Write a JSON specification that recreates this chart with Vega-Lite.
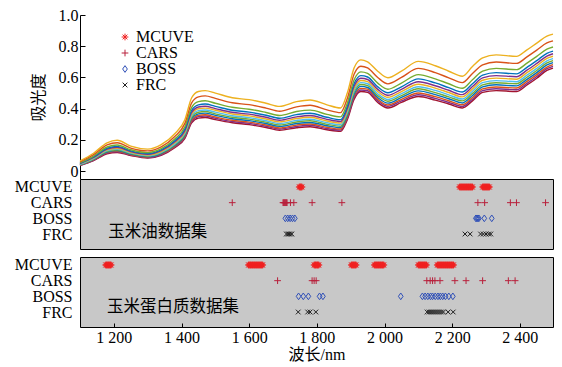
{
"$schema":"https://vega.github.io/schema/vega-lite/v6.json",
"padding":{"left":13,"top":7,"right":5,"bottom":0},
"config":{"view":{"stroke":null},"font":"Liberation Serif","axis":{"labelFont":"Liberation Serif","titleFont":"Liberation Serif, Noto Sans CJK SC","labelColor":"#000","titleColor":"#000","domainColor":"#000","tickColor":"#000","grid":false,"titleFontWeight":"normal"}},
"datasets":{
"spec":[
{"s":1,"w":1100,"a":0.036},{"s":2,"w":1100,"a":0.038},{"s":3,"w":1100,"a":0.039},{"s":4,"w":1100,"a":0.041},{"s":5,"w":1100,"a":0.043},{"s":6,"w":1100,"a":0.044},{"s":7,"w":1100,"a":0.047},{"s":8,"w":1100,"a":0.049},{"s":9,"w":1100,"a":0.051},{"s":10,"w":1100,"a":0.055},{"s":11,"w":1100,"a":0.060},{"s":12,"w":1100,"a":0.066},
{"s":1,"w":1140,"a":0.068},{"s":2,"w":1140,"a":0.070},{"s":3,"w":1140,"a":0.073},{"s":4,"w":1140,"a":0.076},{"s":5,"w":1140,"a":0.078},{"s":6,"w":1140,"a":0.081},{"s":7,"w":1140,"a":0.085},{"s":8,"w":1140,"a":0.088},{"s":9,"w":1140,"a":0.092},{"s":10,"w":1140,"a":0.097},{"s":11,"w":1140,"a":0.106},{"s":12,"w":1140,"a":0.115},
{"s":1,"w":1180,"a":0.112},{"s":2,"w":1180,"a":0.116},{"s":3,"w":1180,"a":0.119},{"s":4,"w":1180,"a":0.123},{"s":5,"w":1180,"a":0.127},{"s":6,"w":1180,"a":0.132},{"s":7,"w":1180,"a":0.137},{"s":8,"w":1180,"a":0.141},{"s":9,"w":1180,"a":0.147},{"s":10,"w":1180,"a":0.155},{"s":11,"w":1180,"a":0.168},{"s":12,"w":1180,"a":0.182},
{"s":1,"w":1210,"a":0.120},{"s":2,"w":1210,"a":0.124},{"s":3,"w":1210,"a":0.128},{"s":4,"w":1210,"a":0.132},{"s":5,"w":1210,"a":0.137},{"s":6,"w":1210,"a":0.142},{"s":7,"w":1210,"a":0.147},{"s":8,"w":1210,"a":0.153},{"s":9,"w":1210,"a":0.159},{"s":10,"w":1210,"a":0.168},{"s":11,"w":1210,"a":0.182},{"s":12,"w":1210,"a":0.198},
{"s":1,"w":1250,"a":0.100},{"s":2,"w":1250,"a":0.103},{"s":3,"w":1250,"a":0.106},{"s":4,"w":1250,"a":0.110},{"s":5,"w":1250,"a":0.113},{"s":6,"w":1250,"a":0.117},{"s":7,"w":1250,"a":0.121},{"s":8,"w":1250,"a":0.125},{"s":9,"w":1250,"a":0.130},{"s":10,"w":1250,"a":0.137},{"s":11,"w":1250,"a":0.148},{"s":12,"w":1250,"a":0.160},
{"s":1,"w":1300,"a":0.084},{"s":2,"w":1300,"a":0.087},{"s":3,"w":1300,"a":0.090},{"s":4,"w":1300,"a":0.093},{"s":5,"w":1300,"a":0.097},{"s":6,"w":1300,"a":0.100},{"s":7,"w":1300,"a":0.104},{"s":8,"w":1300,"a":0.108},{"s":9,"w":1300,"a":0.113},{"s":10,"w":1300,"a":0.119},{"s":11,"w":1300,"a":0.130},{"s":12,"w":1300,"a":0.141},
{"s":1,"w":1340,"a":0.102},{"s":2,"w":1340,"a":0.105},{"s":3,"w":1340,"a":0.109},{"s":4,"w":1340,"a":0.113},{"s":5,"w":1340,"a":0.117},{"s":6,"w":1340,"a":0.121},{"s":7,"w":1340,"a":0.126},{"s":8,"w":1340,"a":0.131},{"s":9,"w":1340,"a":0.136},{"s":10,"w":1340,"a":0.144},{"s":11,"w":1340,"a":0.156},{"s":12,"w":1340,"a":0.170},
{"s":1,"w":1380,"a":0.150},{"s":2,"w":1380,"a":0.155},{"s":3,"w":1380,"a":0.159},{"s":4,"w":1380,"a":0.164},{"s":5,"w":1380,"a":0.170},{"s":6,"w":1380,"a":0.175},{"s":7,"w":1380,"a":0.182},{"s":8,"w":1380,"a":0.188},{"s":9,"w":1380,"a":0.195},{"s":10,"w":1380,"a":0.206},{"s":11,"w":1380,"a":0.222},{"s":12,"w":1380,"a":0.240},
{"s":1,"w":1410,"a":0.210},{"s":2,"w":1410,"a":0.216},{"s":3,"w":1410,"a":0.222},{"s":4,"w":1410,"a":0.229},{"s":5,"w":1410,"a":0.236},{"s":6,"w":1410,"a":0.244},{"s":7,"w":1410,"a":0.252},{"s":8,"w":1410,"a":0.260},{"s":9,"w":1410,"a":0.270},{"s":10,"w":1410,"a":0.284},{"s":11,"w":1410,"a":0.306},{"s":12,"w":1410,"a":0.330},
{"s":1,"w":1430,"a":0.310},{"s":2,"w":1430,"a":0.318},{"s":3,"w":1430,"a":0.326},{"s":4,"w":1430,"a":0.336},{"s":5,"w":1430,"a":0.345},{"s":6,"w":1430,"a":0.355},{"s":7,"w":1430,"a":0.366},{"s":8,"w":1430,"a":0.377},{"s":9,"w":1430,"a":0.390},{"s":10,"w":1430,"a":0.409},{"s":11,"w":1430,"a":0.438},{"s":12,"w":1430,"a":0.470},
{"s":1,"w":1450,"a":0.340},{"s":2,"w":1450,"a":0.349},{"s":3,"w":1450,"a":0.357},{"s":4,"w":1450,"a":0.367},{"s":5,"w":1450,"a":0.377},{"s":6,"w":1450,"a":0.388},{"s":7,"w":1450,"a":0.400},{"s":8,"w":1450,"a":0.411},{"s":9,"w":1450,"a":0.425},{"s":10,"w":1450,"a":0.445},{"s":11,"w":1450,"a":0.476},{"s":12,"w":1450,"a":0.510},
{"s":1,"w":1470,"a":0.344},{"s":2,"w":1470,"a":0.353},{"s":3,"w":1470,"a":0.361},{"s":4,"w":1470,"a":0.372},{"s":5,"w":1470,"a":0.382},{"s":6,"w":1470,"a":0.392},{"s":7,"w":1470,"a":0.404},{"s":8,"w":1470,"a":0.416},{"s":9,"w":1470,"a":0.430},{"s":10,"w":1470,"a":0.451},{"s":11,"w":1470,"a":0.482},{"s":12,"w":1470,"a":0.516},
{"s":1,"w":1500,"a":0.330},{"s":2,"w":1500,"a":0.339},{"s":3,"w":1500,"a":0.347},{"s":4,"w":1500,"a":0.357},{"s":5,"w":1500,"a":0.367},{"s":6,"w":1500,"a":0.378},{"s":7,"w":1500,"a":0.390},{"s":8,"w":1500,"a":0.401},{"s":9,"w":1500,"a":0.415},{"s":10,"w":1500,"a":0.435},{"s":11,"w":1500,"a":0.466},{"s":12,"w":1500,"a":0.500},
{"s":1,"w":1550,"a":0.310},{"s":2,"w":1550,"a":0.318},{"s":3,"w":1550,"a":0.326},{"s":4,"w":1550,"a":0.336},{"s":5,"w":1550,"a":0.345},{"s":6,"w":1550,"a":0.355},{"s":7,"w":1550,"a":0.366},{"s":8,"w":1550,"a":0.377},{"s":9,"w":1550,"a":0.390},{"s":10,"w":1550,"a":0.409},{"s":11,"w":1550,"a":0.438},{"s":12,"w":1550,"a":0.470},
{"s":1,"w":1600,"a":0.298},{"s":2,"w":1600,"a":0.306},{"s":3,"w":1600,"a":0.314},{"s":4,"w":1600,"a":0.324},{"s":5,"w":1600,"a":0.333},{"s":6,"w":1600,"a":0.343},{"s":7,"w":1600,"a":0.354},{"s":8,"w":1600,"a":0.365},{"s":9,"w":1600,"a":0.378},{"s":10,"w":1600,"a":0.397},{"s":11,"w":1600,"a":0.426},{"s":12,"w":1600,"a":0.458},
{"s":1,"w":1650,"a":0.280},{"s":2,"w":1650,"a":0.288},{"s":3,"w":1650,"a":0.296},{"s":4,"w":1650,"a":0.305},{"s":5,"w":1650,"a":0.314},{"s":6,"w":1650,"a":0.323},{"s":7,"w":1650,"a":0.334},{"s":8,"w":1650,"a":0.345},{"s":9,"w":1650,"a":0.358},{"s":10,"w":1650,"a":0.376},{"s":11,"w":1650,"a":0.404},{"s":12,"w":1650,"a":0.435},
{"s":1,"w":1690,"a":0.262},{"s":2,"w":1690,"a":0.270},{"s":3,"w":1690,"a":0.277},{"s":4,"w":1690,"a":0.287},{"s":5,"w":1690,"a":0.296},{"s":6,"w":1690,"a":0.305},{"s":7,"w":1690,"a":0.316},{"s":8,"w":1690,"a":0.326},{"s":9,"w":1690,"a":0.339},{"s":10,"w":1690,"a":0.357},{"s":11,"w":1690,"a":0.384},{"s":12,"w":1690,"a":0.415},
{"s":1,"w":1740,"a":0.278},{"s":2,"w":1740,"a":0.286},{"s":3,"w":1740,"a":0.295},{"s":4,"w":1740,"a":0.305},{"s":5,"w":1740,"a":0.315},{"s":6,"w":1740,"a":0.325},{"s":7,"w":1740,"a":0.337},{"s":8,"w":1740,"a":0.348},{"s":9,"w":1740,"a":0.362},{"s":10,"w":1740,"a":0.382},{"s":11,"w":1740,"a":0.412},{"s":12,"w":1740,"a":0.445},
{"s":1,"w":1780,"a":0.285},{"s":2,"w":1780,"a":0.294},{"s":3,"w":1780,"a":0.302},{"s":4,"w":1780,"a":0.312},{"s":5,"w":1780,"a":0.323},{"s":6,"w":1780,"a":0.333},{"s":7,"w":1780,"a":0.345},{"s":8,"w":1780,"a":0.357},{"s":9,"w":1780,"a":0.371},{"s":10,"w":1780,"a":0.391},{"s":11,"w":1780,"a":0.422},{"s":12,"w":1780,"a":0.456},
{"s":1,"w":1830,"a":0.265},{"s":2,"w":1830,"a":0.273},{"s":3,"w":1830,"a":0.281},{"s":4,"w":1830,"a":0.291},{"s":5,"w":1830,"a":0.300},{"s":6,"w":1830,"a":0.310},{"s":7,"w":1830,"a":0.321},{"s":8,"w":1830,"a":0.332},{"s":9,"w":1830,"a":0.345},{"s":10,"w":1830,"a":0.364},{"s":11,"w":1830,"a":0.393},{"s":12,"w":1830,"a":0.425},
{"s":1,"w":1870,"a":0.255},{"s":2,"w":1870,"a":0.263},{"s":3,"w":1870,"a":0.270},{"s":4,"w":1870,"a":0.279},{"s":5,"w":1870,"a":0.288},{"s":6,"w":1870,"a":0.297},{"s":7,"w":1870,"a":0.308},{"s":8,"w":1870,"a":0.318},{"s":9,"w":1870,"a":0.330},{"s":10,"w":1870,"a":0.348},{"s":11,"w":1870,"a":0.375},{"s":12,"w":1870,"a":0.405},
{"s":1,"w":1890,"a":0.330},{"s":2,"w":1890,"a":0.339},{"s":3,"w":1890,"a":0.347},{"s":4,"w":1890,"a":0.357},{"s":5,"w":1890,"a":0.367},{"s":6,"w":1890,"a":0.378},{"s":7,"w":1890,"a":0.390},{"s":8,"w":1890,"a":0.401},{"s":9,"w":1890,"a":0.415},{"s":10,"w":1890,"a":0.435},{"s":11,"w":1890,"a":0.466},{"s":12,"w":1890,"a":0.500},
{"s":1,"w":1910,"a":0.460},{"s":2,"w":1910,"a":0.470},{"s":3,"w":1910,"a":0.480},{"s":4,"w":1910,"a":0.492},{"s":5,"w":1910,"a":0.504},{"s":6,"w":1910,"a":0.516},{"s":7,"w":1910,"a":0.530},{"s":8,"w":1910,"a":0.544},{"s":9,"w":1910,"a":0.560},{"s":10,"w":1910,"a":0.584},{"s":11,"w":1910,"a":0.620},{"s":12,"w":1910,"a":0.660},
{"s":1,"w":1930,"a":0.510},{"s":2,"w":1930,"a":0.520},{"s":3,"w":1930,"a":0.530},{"s":4,"w":1930,"a":0.543},{"s":5,"w":1930,"a":0.555},{"s":6,"w":1930,"a":0.567},{"s":7,"w":1930,"a":0.581},{"s":8,"w":1930,"a":0.595},{"s":9,"w":1930,"a":0.612},{"s":10,"w":1930,"a":0.636},{"s":11,"w":1930,"a":0.672},{"s":12,"w":1930,"a":0.713},
{"s":1,"w":1950,"a":0.505},{"s":2,"w":1950,"a":0.515},{"s":3,"w":1950,"a":0.525},{"s":4,"w":1950,"a":0.536},{"s":5,"w":1950,"a":0.548},{"s":6,"w":1950,"a":0.560},{"s":7,"w":1950,"a":0.573},{"s":8,"w":1950,"a":0.587},{"s":9,"w":1950,"a":0.603},{"s":10,"w":1950,"a":0.626},{"s":11,"w":1950,"a":0.661},{"s":12,"w":1950,"a":0.700},
{"s":1,"w":1980,"a":0.440},{"s":2,"w":1980,"a":0.450},{"s":3,"w":1980,"a":0.460},{"s":4,"w":1980,"a":0.472},{"s":5,"w":1980,"a":0.484},{"s":6,"w":1980,"a":0.496},{"s":7,"w":1980,"a":0.510},{"s":8,"w":1980,"a":0.524},{"s":9,"w":1980,"a":0.540},{"s":10,"w":1980,"a":0.564},{"s":11,"w":1980,"a":0.600},{"s":12,"w":1980,"a":0.640},
{"s":1,"w":2010,"a":0.405},{"s":2,"w":2010,"a":0.415},{"s":3,"w":2010,"a":0.424},{"s":4,"w":2010,"a":0.436},{"s":5,"w":2010,"a":0.448},{"s":6,"w":2010,"a":0.459},{"s":7,"w":2010,"a":0.473},{"s":8,"w":2010,"a":0.486},{"s":9,"w":2010,"a":0.502},{"s":10,"w":2010,"a":0.525},{"s":11,"w":2010,"a":0.559},{"s":12,"w":2010,"a":0.598},
{"s":1,"w":2050,"a":0.440},{"s":2,"w":2050,"a":0.450},{"s":3,"w":2050,"a":0.460},{"s":4,"w":2050,"a":0.472},{"s":5,"w":2050,"a":0.484},{"s":6,"w":2050,"a":0.496},{"s":7,"w":2050,"a":0.510},{"s":8,"w":2050,"a":0.524},{"s":9,"w":2050,"a":0.540},{"s":10,"w":2050,"a":0.564},{"s":11,"w":2050,"a":0.600},{"s":12,"w":2050,"a":0.640},
{"s":1,"w":2100,"a":0.478},{"s":2,"w":2100,"a":0.489},{"s":3,"w":2100,"a":0.501},{"s":4,"w":2100,"a":0.514},{"s":5,"w":2100,"a":0.528},{"s":6,"w":2100,"a":0.541},{"s":7,"w":2100,"a":0.557},{"s":8,"w":2100,"a":0.573},{"s":9,"w":2100,"a":0.591},{"s":10,"w":2100,"a":0.618},{"s":11,"w":2100,"a":0.658},{"s":12,"w":2100,"a":0.703},
{"s":1,"w":2150,"a":0.455},{"s":2,"w":2150,"a":0.466},{"s":3,"w":2150,"a":0.477},{"s":4,"w":2150,"a":0.490},{"s":5,"w":2150,"a":0.503},{"s":6,"w":2150,"a":0.517},{"s":7,"w":2150,"a":0.532},{"s":8,"w":2150,"a":0.547},{"s":9,"w":2150,"a":0.565},{"s":10,"w":2150,"a":0.591},{"s":11,"w":2150,"a":0.631},{"s":12,"w":2150,"a":0.675},
{"s":1,"w":2190,"a":0.430},{"s":2,"w":2190,"a":0.441},{"s":3,"w":2190,"a":0.451},{"s":4,"w":2190,"a":0.464},{"s":5,"w":2190,"a":0.476},{"s":6,"w":2190,"a":0.489},{"s":7,"w":2190,"a":0.504},{"s":8,"w":2190,"a":0.518},{"s":9,"w":2190,"a":0.535},{"s":10,"w":2190,"a":0.560},{"s":11,"w":2190,"a":0.598},{"s":12,"w":2190,"a":0.640},
{"s":1,"w":2230,"a":0.405},{"s":2,"w":2230,"a":0.415},{"s":3,"w":2230,"a":0.425},{"s":4,"w":2230,"a":0.437},{"s":5,"w":2230,"a":0.450},{"s":6,"w":2230,"a":0.462},{"s":7,"w":2230,"a":0.476},{"s":8,"w":2230,"a":0.490},{"s":9,"w":2230,"a":0.507},{"s":10,"w":2230,"a":0.531},{"s":11,"w":2230,"a":0.567},{"s":12,"w":2230,"a":0.608},
{"s":1,"w":2260,"a":0.450},{"s":2,"w":2260,"a":0.461},{"s":3,"w":2260,"a":0.472},{"s":4,"w":2260,"a":0.485},{"s":5,"w":2260,"a":0.498},{"s":6,"w":2260,"a":0.512},{"s":7,"w":2260,"a":0.527},{"s":8,"w":2260,"a":0.542},{"s":9,"w":2260,"a":0.560},{"s":10,"w":2260,"a":0.586},{"s":11,"w":2260,"a":0.626},{"s":12,"w":2260,"a":0.670},
{"s":1,"w":2290,"a":0.505},{"s":2,"w":2290,"a":0.516},{"s":3,"w":2290,"a":0.527},{"s":4,"w":2290,"a":0.540},{"s":5,"w":2290,"a":0.553},{"s":6,"w":2290,"a":0.567},{"s":7,"w":2290,"a":0.582},{"s":8,"w":2290,"a":0.597},{"s":9,"w":2290,"a":0.615},{"s":10,"w":2290,"a":0.641},{"s":11,"w":2290,"a":0.681},{"s":12,"w":2290,"a":0.725},
{"s":1,"w":2330,"a":0.516},{"s":2,"w":2330,"a":0.528},{"s":3,"w":2330,"a":0.539},{"s":4,"w":2330,"a":0.553},{"s":5,"w":2330,"a":0.566},{"s":6,"w":2330,"a":0.580},{"s":7,"w":2330,"a":0.596},{"s":8,"w":2330,"a":0.612},{"s":9,"w":2330,"a":0.631},{"s":10,"w":2330,"a":0.658},{"s":11,"w":2330,"a":0.699},{"s":12,"w":2330,"a":0.745},
{"s":1,"w":2390,"a":0.510},{"s":2,"w":2390,"a":0.521},{"s":3,"w":2390,"a":0.533},{"s":4,"w":2390,"a":0.546},{"s":5,"w":2390,"a":0.560},{"s":6,"w":2390,"a":0.573},{"s":7,"w":2390,"a":0.589},{"s":8,"w":2390,"a":0.605},{"s":9,"w":2390,"a":0.623},{"s":10,"w":2390,"a":0.650},{"s":11,"w":2390,"a":0.690},{"s":12,"w":2390,"a":0.735},
{"s":1,"w":2420,"a":0.550},{"s":2,"w":2420,"a":0.561},{"s":3,"w":2420,"a":0.573},{"s":4,"w":2420,"a":0.586},{"s":5,"w":2420,"a":0.600},{"s":6,"w":2420,"a":0.613},{"s":7,"w":2420,"a":0.629},{"s":8,"w":2420,"a":0.645},{"s":9,"w":2420,"a":0.663},{"s":10,"w":2420,"a":0.690},{"s":11,"w":2420,"a":0.730},{"s":12,"w":2420,"a":0.775},
{"s":1,"w":2450,"a":0.595},{"s":2,"w":2450,"a":0.606},{"s":3,"w":2450,"a":0.618},{"s":4,"w":2450,"a":0.631},{"s":5,"w":2450,"a":0.645},{"s":6,"w":2450,"a":0.658},{"s":7,"w":2450,"a":0.674},{"s":8,"w":2450,"a":0.690},{"s":9,"w":2450,"a":0.708},{"s":10,"w":2450,"a":0.735},{"s":11,"w":2450,"a":0.775},{"s":12,"w":2450,"a":0.820},
{"s":1,"w":2480,"a":0.645},{"s":2,"w":2480,"a":0.656},{"s":3,"w":2480,"a":0.667},{"s":4,"w":2480,"a":0.680},{"s":5,"w":2480,"a":0.693},{"s":6,"w":2480,"a":0.707},{"s":7,"w":2480,"a":0.722},{"s":8,"w":2480,"a":0.737},{"s":9,"w":2480,"a":0.755},{"s":10,"w":2480,"a":0.781},{"s":11,"w":2480,"a":0.821},{"s":12,"w":2480,"a":0.865},
{"s":1,"w":2498,"a":0.660},{"s":2,"w":2498,"a":0.671},{"s":3,"w":2498,"a":0.682},{"s":4,"w":2498,"a":0.695},{"s":5,"w":2498,"a":0.708},{"s":6,"w":2498,"a":0.721},{"s":7,"w":2498,"a":0.736},{"s":8,"w":2498,"a":0.752},{"s":9,"w":2498,"a":0.769},{"s":10,"w":2498,"a":0.795},{"s":11,"w":2498,"a":0.834},{"s":12,"w":2498,"a":0.878}
],
"oil":[
{"m":"MCUVE","w":1748},{"m":"MCUVE","w":1750},{"m":"MCUVE","w":1752},{"m":"MCUVE","w":1754},{"m":"MCUVE","w":1756},
{"m":"MCUVE","w":2222},{"m":"MCUVE","w":2224},{"m":"MCUVE","w":2226},{"m":"MCUVE","w":2228},{"m":"MCUVE","w":2230},{"m":"MCUVE","w":2232},{"m":"MCUVE","w":2234},{"m":"MCUVE","w":2236},{"m":"MCUVE","w":2238},{"m":"MCUVE","w":2240},{"m":"MCUVE","w":2242},{"m":"MCUVE","w":2244},{"m":"MCUVE","w":2246},{"m":"MCUVE","w":2248},{"m":"MCUVE","w":2250},{"m":"MCUVE","w":2252},{"m":"MCUVE","w":2254},{"m":"MCUVE","w":2256},{"m":"MCUVE","w":2258},{"m":"MCUVE","w":2260},
{"m":"MCUVE","w":2290},{"m":"MCUVE","w":2292},{"m":"MCUVE","w":2294},{"m":"MCUVE","w":2296},{"m":"MCUVE","w":2298},{"m":"MCUVE","w":2300},{"m":"MCUVE","w":2302},{"m":"MCUVE","w":2304},{"m":"MCUVE","w":2306},{"m":"MCUVE","w":2308},{"m":"MCUVE","w":2310},
{"m":"CARS","w":1550},{"m":"CARS","w":1700},{"m":"CARS","w":1702},{"m":"CARS","w":1704},{"m":"CARS","w":1706},{"m":"CARS","w":1708},{"m":"CARS","w":1710},{"m":"CARS","w":1712},{"m":"CARS","w":1722},{"m":"CARS","w":1732},{"m":"CARS","w":1786},{"m":"CARS","w":1874},{"m":"CARS","w":2276},{"m":"CARS","w":2296},{"m":"CARS","w":2372},{"m":"CARS","w":2390},{"m":"CARS","w":2476},
{"m":"BOSS","w":1707},{"m":"BOSS","w":1714},{"m":"BOSS","w":1721},{"m":"BOSS","w":1728},{"m":"BOSS","w":1735},{"m":"BOSS","w":2270},{"m":"BOSS","w":2273},{"m":"BOSS","w":2276},{"m":"BOSS","w":2279},{"m":"BOSS","w":2295},{"m":"BOSS","w":2317},
{"m":"FRC","w":1710},{"m":"FRC","w":1714},{"m":"FRC","w":1718},{"m":"FRC","w":1722},{"m":"FRC","w":1726},{"m":"FRC","w":2238},{"m":"FRC","w":2253},{"m":"FRC","w":2284},{"m":"FRC","w":2292},{"m":"FRC","w":2300},{"m":"FRC","w":2308},{"m":"FRC","w":2314}
],
"protein":[
{"m":"MCUVE","w":1176},{"m":"MCUVE","w":1178},{"m":"MCUVE","w":1180},{"m":"MCUVE","w":1182},{"m":"MCUVE","w":1184},{"m":"MCUVE","w":1186},{"m":"MCUVE","w":1188},{"m":"MCUVE","w":1190},{"m":"MCUVE","w":1192},
{"m":"MCUVE","w":1598},{"m":"MCUVE","w":1600},{"m":"MCUVE","w":1602},{"m":"MCUVE","w":1604},{"m":"MCUVE","w":1606},{"m":"MCUVE","w":1608},{"m":"MCUVE","w":1610},{"m":"MCUVE","w":1612},{"m":"MCUVE","w":1614},{"m":"MCUVE","w":1616},{"m":"MCUVE","w":1618},{"m":"MCUVE","w":1620},{"m":"MCUVE","w":1622},{"m":"MCUVE","w":1624},{"m":"MCUVE","w":1626},{"m":"MCUVE","w":1628},{"m":"MCUVE","w":1630},{"m":"MCUVE","w":1632},{"m":"MCUVE","w":1634},{"m":"MCUVE","w":1636},{"m":"MCUVE","w":1638},{"m":"MCUVE","w":1640},
{"m":"MCUVE","w":1792},{"m":"MCUVE","w":1794},{"m":"MCUVE","w":1796},{"m":"MCUVE","w":1798},{"m":"MCUVE","w":1800},{"m":"MCUVE","w":1802},{"m":"MCUVE","w":1804},{"m":"MCUVE","w":1806},
{"m":"MCUVE","w":1902},{"m":"MCUVE","w":1904},{"m":"MCUVE","w":1906},{"m":"MCUVE","w":1908},{"m":"MCUVE","w":1910},{"m":"MCUVE","w":1912},{"m":"MCUVE","w":1914},{"m":"MCUVE","w":1916},
{"m":"MCUVE","w":1970},{"m":"MCUVE","w":1972},{"m":"MCUVE","w":1974},{"m":"MCUVE","w":1976},{"m":"MCUVE","w":1978},{"m":"MCUVE","w":1980},{"m":"MCUVE","w":1982},{"m":"MCUVE","w":1984},{"m":"MCUVE","w":1986},{"m":"MCUVE","w":1988},{"m":"MCUVE","w":1990},{"m":"MCUVE","w":1992},{"m":"MCUVE","w":1994},{"m":"MCUVE","w":1996},{"m":"MCUVE","w":1998},
{"m":"MCUVE","w":2100},{"m":"MCUVE","w":2102},{"m":"MCUVE","w":2104},{"m":"MCUVE","w":2106},{"m":"MCUVE","w":2108},{"m":"MCUVE","w":2110},{"m":"MCUVE","w":2112},{"m":"MCUVE","w":2114},{"m":"MCUVE","w":2116},{"m":"MCUVE","w":2118},{"m":"MCUVE","w":2120},{"m":"MCUVE","w":2122},{"m":"MCUVE","w":2124},
{"m":"MCUVE","w":2156},{"m":"MCUVE","w":2158},{"m":"MCUVE","w":2160},{"m":"MCUVE","w":2162},{"m":"MCUVE","w":2164},{"m":"MCUVE","w":2166},{"m":"MCUVE","w":2168},{"m":"MCUVE","w":2170},{"m":"MCUVE","w":2172},{"m":"MCUVE","w":2174},{"m":"MCUVE","w":2176},{"m":"MCUVE","w":2178},{"m":"MCUVE","w":2180},{"m":"MCUVE","w":2182},{"m":"MCUVE","w":2184},{"m":"MCUVE","w":2186},{"m":"MCUVE","w":2188},{"m":"MCUVE","w":2190},{"m":"MCUVE","w":2192},{"m":"MCUVE","w":2194},{"m":"MCUVE","w":2196},{"m":"MCUVE","w":2198},{"m":"MCUVE","w":2200},{"m":"MCUVE","w":2202},{"m":"MCUVE","w":2204},
{"m":"CARS","w":1684},{"m":"CARS","w":1786},{"m":"CARS","w":1792},{"m":"CARS","w":1798},{"m":"CARS","w":2125},{"m":"CARS","w":2135},{"m":"CARS","w":2142},{"m":"CARS","w":2149},{"m":"CARS","w":2164},{"m":"CARS","w":2208},{"m":"CARS","w":2241},{"m":"CARS","w":2290},{"m":"CARS","w":2366},{"m":"CARS","w":2386},
{"m":"BOSS","w":1746},{"m":"BOSS","w":1760},{"m":"BOSS","w":1775},{"m":"BOSS","w":1808},{"m":"BOSS","w":1818},{"m":"BOSS","w":2048},{"m":"BOSS","w":2112},{"m":"BOSS","w":2120},{"m":"BOSS","w":2128},{"m":"BOSS","w":2136},{"m":"BOSS","w":2142},{"m":"BOSS","w":2150},{"m":"BOSS","w":2158},{"m":"BOSS","w":2165},{"m":"BOSS","w":2172},{"m":"BOSS","w":2180},{"m":"BOSS","w":2190},{"m":"BOSS","w":2202},
{"m":"FRC","w":1745},{"m":"FRC","w":1773},{"m":"FRC","w":1780},{"m":"FRC","w":1797},{"m":"FRC","w":2126},{"m":"FRC","w":2132},{"m":"FRC","w":2138},{"m":"FRC","w":2144},{"m":"FRC","w":2150},{"m":"FRC","w":2156},{"m":"FRC","w":2162},{"m":"FRC","w":2168},{"m":"FRC","w":2174},{"m":"FRC","w":2188},{"m":"FRC","w":2203}
]
},
"spacing":0,
"bounds":"flush",
"resolve":{"scale":{"color":"independent","shape":"independent"},"legend":{"color":"independent","shape":"independent"}},
"vconcat":[
{
"width":473,"height":164,
"data":{"name":"spec"},
"mark":{"type":"line","strokeWidth":1.4,"interpolate":"monotone"},
"encoding":{
"x":{"field":"w","type":"quantitative","scale":{"domain":[1100,2498],"nice":false,"zero":false},"axis":null},
"y":{"field":"a","type":"quantitative","scale":{"domain":[-0.05,1],"nice":false,"zero":false},"axis":{"values":[0,0.2,0.4,0.6,0.8,1],"labelExpr":"datum.value==0?'0':format(datum.value,'.1f')","title":"吸光度","titleFont":"Noto Sans CJK SC","titleFontSize":16,"titlePadding":12,"labelFontSize":16,"tickSize":-5,"labelPadding":7}},
"color":{"field":"s","type":"nominal","scale":{"domain":[1,2,3,4,5,6,7,8,9,10,11,12],"range":["#A2142F","#7E2F8E","#D95319","#0072BD","#77AC30","#4DBEEE","#EDB120","#7E2F8E","#0072BD","#77AC30","#D95319","#EDB120"]},"legend":null}
}
},
{
"spacing":8,
"bounds":"flush",
"vconcat":[
{
"width":473,"height":70,
"view":{"fill":"#C8C8C8","stroke":"#000","strokeWidth":1},
"layer":[
{"data":{"name":"oil"},
"mark":{"type":"point","filled":false,"strokeWidth":1,"size":45,"opacity":1},
"encoding":{
"x":{"field":"w","type":"quantitative","scale":{"domain":[1100,2498],"nice":false,"zero":false},"axis":null},
"y":{"field":"m","type":"nominal","scale":{"domain":["MCUVE","CARS","BOSS","FRC"],"padding":0.733,"align":0.348},"axis":{"title":null,"ticks":false,"domain":false,"labelFontSize":16,"labelPadding":8}},
"color":{"field":"m","type":"nominal","scale":{"domain":["MCUVE","CARS","BOSS","FRC"],"range":["#F02020","#B8203C","#3050B8","#202020"]},"legend":{"orient":"none","legendX":37,"legendY":-150,"title":null,"labelFontSize":16,"labelFont":"Liberation Serif","symbolSize":45,"symbolStrokeWidth":1,"rowPadding":0,"labelOffset":3,"padding":0}},
"shape":{"field":"m","type":"nominal","scale":{"domain":["MCUVE","CARS","BOSS","FRC"],"range":["M-1,0L1,0M0,-1L0,1M-0.7,-0.7L0.7,0.7M-0.7,0.7L0.7,-0.7","M-1,0L1,0M0,-1L0,1","M0,-1L0.7,0L0,1L-0.7,0Z","M-0.7,-0.7L0.7,0.7M-0.7,0.7L0.7,-0.7"]},"legend":{"orient":"none","legendX":37,"legendY":-150,"title":null,"labelFontSize":16,"labelFont":"Liberation Serif","symbolSize":45,"symbolStrokeWidth":1,"rowPadding":0,"labelOffset":3,"padding":0}}
}},
{"data":{"values":[{"t":"玉米油数据集"}]},
"mark":{"type":"text","font":"Noto Sans CJK SC","fontSize":16.5,"color":"#000","align":"center","baseline":"middle","dy":-2},
"encoding":{"x":{"datum":1330},"y":{"datum":"FRC"},"text":{"field":"t"}}}
]
},
{
"width":473,"height":70,
"view":{"fill":"#C8C8C8","stroke":"#000","strokeWidth":1},
"layer":[
{"data":{"name":"protein"},
"mark":{"type":"point","filled":false,"strokeWidth":1,"size":45,"opacity":1},
"encoding":{
"x":{"field":"w","type":"quantitative","scale":{"domain":[1100,2498],"nice":false,"zero":false},"axis":{"values":[1200,1400,1600,1800,2000,2200,2400],"labelExpr":"replace(format(datum.value,','),',',' ')","title":"波长/nm","titleFontSize":16,"labelFontSize":16,"tickSize":-4,"domain":false,"labelPadding":6,"titlePadding":1}},
"y":{"field":"m","type":"nominal","scale":{"domain":["MCUVE","CARS","BOSS","FRC"],"padding":0.733,"align":0.348},"axis":{"title":null,"ticks":false,"domain":false,"labelFontSize":16,"labelPadding":8}},
"color":{"field":"m","type":"nominal","scale":{"domain":["MCUVE","CARS","BOSS","FRC"],"range":["#F02020","#B8203C","#3050B8","#202020"]},"legend":null},
"shape":{"field":"m","type":"nominal","scale":{"domain":["MCUVE","CARS","BOSS","FRC"],"range":["M-1,0L1,0M0,-1L0,1M-0.7,-0.7L0.7,0.7M-0.7,0.7L0.7,-0.7","M-1,0L1,0M0,-1L0,1","M0,-1L0.7,0L0,1L-0.7,0Z","M-0.7,-0.7L0.7,0.7M-0.7,0.7L0.7,-0.7"]},"legend":null}
}},
{"data":{"values":[{"t":"玉米蛋白质数据集"}]},
"mark":{"type":"text","font":"Noto Sans CJK SC","fontSize":16.5,"color":"#000","align":"center","baseline":"middle","dy":-5},
"encoding":{"x":{"datum":1375},"y":{"datum":"FRC"},"text":{"field":"t"}}}
]
}
]
}
]
}
